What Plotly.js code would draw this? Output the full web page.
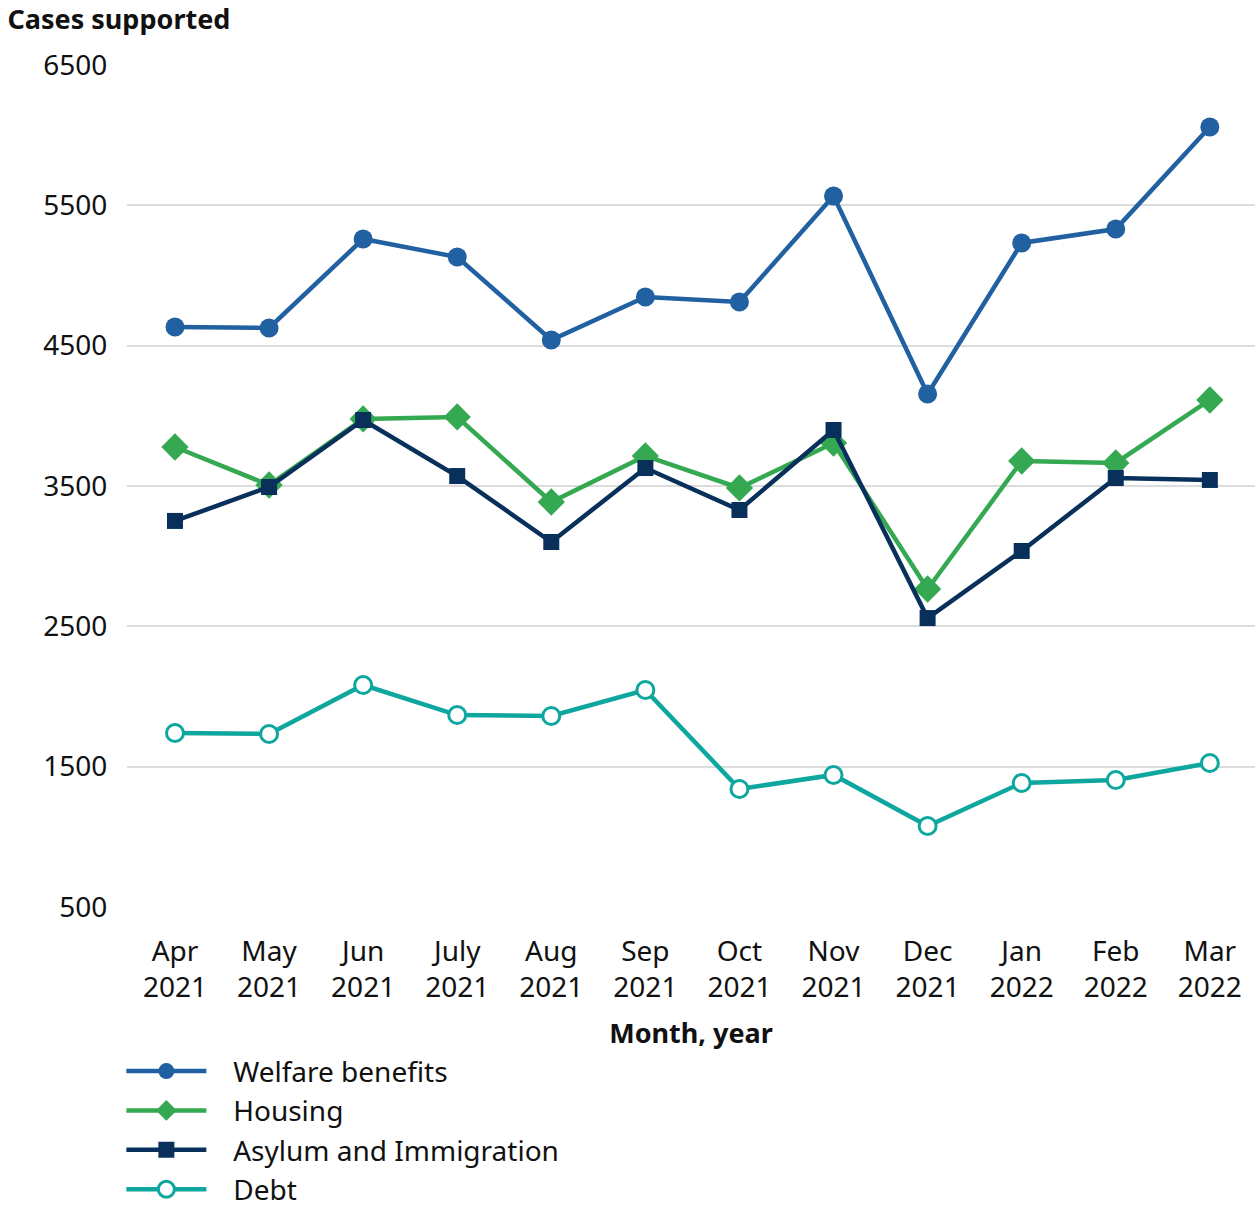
<!DOCTYPE html>
<html>
<head>
<meta charset="utf-8">
<script src="https://cdn.plot.ly/plotly-3.0.1.min.js"></script>
<style>html,body{margin:0;padding:0;background:#fff;}#chart{width:1255px;height:1209px;}</style>
</head>
<body>
<div id="chart"></div>
<script>
const months = ["Apr<br>2021","May<br>2021","Jun<br>2021","July<br>2021","Aug<br>2021","Sep<br>2021","Oct<br>2021","Nov<br>2021","Dec<br>2021","Jan<br>2022","Feb<br>2022","Mar<br>2022"];
const welfare = [4633, 4626, 5260, 5132, 4540, 4847, 4811, 5567, 4156, 5232, 5331, 6058];
const housing = [3778, 3507, 3978, 3992, 3386, 3714, 3486, 3806, 2766, 3678, 3664, 4113];
const asylum  = [3251, 3493, 3970, 3571, 3101, 3628, 3329, 3899, 2559, 3037, 3557, 3543];
const debt    = [1740, 1733, 2082, 1868, 1861, 2046, 1341, 1441, 1077, 1384, 1405, 1526];
const yTicks = [500, 1500, 2500, 3500, 4500, 5500, 6500];
const seriesNames = ["Welfare benefits", "Housing", "Asylum and Immigration", "Debt"];

const FONT = "Noto Sans, Open Sans, sans-serif";
const idx = months.map((_, i) => i);
const pad = "\u00a0\u00a0\u00a0";

function tr(name, y, color, symbol, size, fill) {
  return {
    type: "scatter", mode: "lines+markers", name: pad + name,
    x: idx, y: y,
    line: {color: color, width: 4.5},
    marker: {symbol: symbol, size: size, color: fill || color,
             line: {color: color, width: fill ? 3 : 0}}
  };
}

const data = [
  tr(seriesNames[0], welfare, "#2160a1", "circle", 19),
  tr(seriesNames[1], housing, "#35a852", "diamond", 21),
  tr(seriesNames[2], asylum, "#08305b", "square", 16),
  tr(seriesNames[3], debt, "#0ea79f", "circle", 17, "#ffffff")
];

const layout = {
  width: 1255, height: 1209,
  margin: {l: 127, r: 0, t: 65, b: 302, autoexpand: false},
  paper_bgcolor: "#fff", plot_bgcolor: "#fff",
  font: {family: FONT, size: 27, color: "#111"},
  title: {text: "<b>Cases supported</b>", x: 0.006, xref: "container", xanchor: "left",
          y: 0.984, yref: "container", yanchor: "middle",
          font: {family: FONT, size: 27, color: "#111"}},
  xaxis: {
    tickmode: "array", tickvals: idx, ticktext: months,
    range: [-0.51, 11.48], showgrid: false, zeroline: false, showline: false,
    ticks: "outside", ticklen: 19, tickcolor: "rgba(0,0,0,0)",
    tickfont: {family: FONT, size: 28, color: "#111"},
    title: {text: "<b>Month, year</b>", standoff: 20, font: {family: FONT, size: 27, color: "#111"}}
  },
  yaxis: {
    range: [500, 6500], tickvals: yTicks, ticks: "outside", ticklen: 13, tickcolor: "rgba(0,0,0,0)",
    showgrid: true, gridcolor: "#dcdcdc", gridwidth: 1.5, zeroline: false, showline: false,
    tickfont: {family: FONT, size: 28, color: "#111"}
  },
  showlegend: true,
  legend: {x: -0.005, xanchor: "left", y: -0.1655, yanchor: "top",
           font: {family: FONT, size: 28, color: "#111"}, itemwidth: 80, tracegroupgap: 0,
           bgcolor: "rgba(0,0,0,0)"}
};

Plotly.newPlot("chart", data, layout, {displayModeBar: false, responsive: false});
</script>
</body>
</html>
